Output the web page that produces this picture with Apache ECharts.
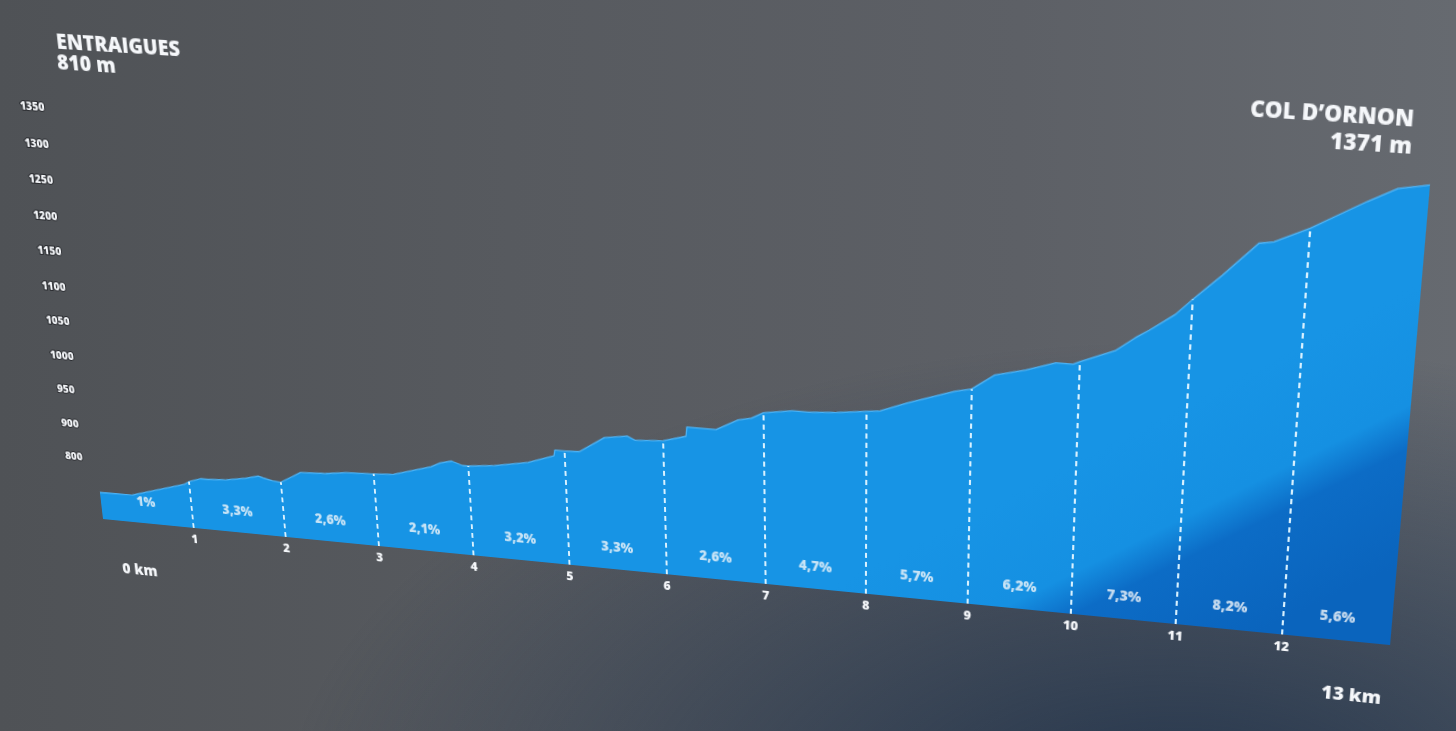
<!DOCTYPE html>
<html>
<head>
<meta charset="utf-8">
<script src="https://cdn.jsdelivr.net/npm/echarts@6/dist/echarts.min.js"></script>
<style>
html,body{margin:0;padding:0;width:1456px;height:731px;overflow:hidden;}
body{
  background:
    radial-gradient(ellipse 900px 480px at 1180px 820px, rgba(32,50,74,0.95), rgba(32,50,74,0) 100%),
    linear-gradient(to right, #4f5256 0%, #575a5f 35%, #5d6066 70%, #666a70 100%);
}
#chart{position:absolute;left:0;top:0;width:1456px;height:731px;transform-origin:0 0;}
</style>
</head>
<body>
<div id="chart"></div>
<script>
// ---- data read from the sign ----
const kmPoints = [0,0.36,0.69,0.94,1,1.13,1.22,1.41,1.62,1.76,1.81,1.91,2,2.13,2.22,2.49,2.71,3,3.21,3.46,3.61,3.71,3.83,3.94,4,4.27,4.62,4.89,4.9,5,5.15,5.41,5.64,5.72,6,6.23,6.24,6.35,6.53,6.75,6.88,7,7.28,7.44,7.71,8,8.13,8.39,8.71,8.84,9,9.05,9.21,9.5,9.78,9.94,10,10.32,10.5,10.62,10.67,10.85,11,11.25,11.56,11.69,12,12.15,12.48,12.73,13];
const elevations = [810,811,824,834,839,845,845,847,852,857,855,852,851,861,868,870,874,876,878,888,894,901,905,900,900,904,913,926,934,934,935,958,963,958,961,970,983,983,983,999,1003,1012,1018,1018,1021,1026,1028,1042,1057,1063,1068,1073,1089,1099,1112,1112,1116,1134,1153,1164,1169,1187,1208,1241,1285,1288,1308,1320,1346,1364,1371];
const kmTicks = [1,2,3,4,5,6,7,8,9,10,11,12];
const slopeLabels = ['1%','3,3%','2,6%','2,1%','3,2%','3,3%','2,6%','4,7%','5,7%','6,2%','7,3%','8,2%','5,6%'];
const elevTickLabels = ['800','900','950','1000','1050','1100','1150','1200','1250','1300','1350'];
const startName = 'ENTRAIGUES', startElev = '810 m';
const endName = 'COL D’ORNON', endElev = '1371 m';
const startKmLabel = '0 km', endKmLabel = '13 km';

// ---- flat layout of the chart (before the photo perspective) ----
const GL = 100, GT = 159, GW = 1300, GH = 441;
const Y_MIN = 770, Y_MAX = 1400, X_MAX = 13;
const sx = k => GL + k * GW / X_MAX;
const sy = e => GT + GH - (e - Y_MIN) * GH / (Y_MAX - Y_MIN);

// ---- perspective of the photographed sign (homography) ----
function solve(A, b) {
  const n = b.length;
  const M = A.map((r, i) => r.concat([b[i]]));
  for (let c = 0; c < n; c++) {
    let p = c;
    for (let r = c + 1; r < n; r++) if (Math.abs(M[r][c]) > Math.abs(M[p][c])) p = r;
    [M[c], M[p]] = [M[p], M[c]];
    for (let r = 0; r < n; r++) {
      if (r === c) continue;
      const f = M[r][c] / M[c][c];
      for (let k = c; k <= n; k++) M[r][k] -= f * M[c][k];
    }
  }
  return M.map((r, i) => r[n] / r[i]);
}
function homography(src, dst) {
  const A = [], B = [];
  for (let i = 0; i < 4; i++) {
    const [x, y] = src[i], [u, v] = dst[i];
    A.push([x, y, 1, 0, 0, 0, -x * u, -y * u]); B.push(u);
    A.push([0, 0, 0, x, y, 1, -x * v, -y * v]); B.push(v);
  }
  const h = solve(A, B);
  return [[h[0], h[1], h[2]], [h[3], h[4], h[5]], [h[6], h[7], 1]];
}
function inv3(m) {
  const [a, b, c] = m[0], [d, e, f] = m[1], [g, h, i] = m[2];
  const A = e * i - f * h, B = -(d * i - f * g), C = d * h - e * g;
  const det = a * A + b * B + c * C;
  return [
    [A / det, -(b * i - c * h) / det, (b * f - c * e) / det],
    [B / det, (a * i - c * g) / det, -(a * f - c * d) / det],
    [C / det, -(a * h - b * g) / det, (a * e - b * d) / det]
  ];
}
const H = homography(
  [[sx(0), sy(Y_MIN)], [sx(13), sy(Y_MIN)], [sx(13), sy(1371)], [sx(0), sy(1371)]],
  [[103, 519], [1390, 645], [1430, 185], [54, 95]]
);
const Hi = inv3(H);
function toSrc(u, v) {
  const x = Hi[0][0] * u + Hi[0][1] * v + Hi[0][2];
  const y = Hi[1][0] * u + Hi[1][1] * v + Hi[1][2];
  const w = Hi[2][0] * u + Hi[2][1] * v + Hi[2][2];
  return [x / w, y / w];
}
const dom = document.getElementById('chart');
dom.style.transform = `matrix3d(${H[0][0]},${H[1][0]},0,${H[2][0]},${H[0][1]},${H[1][1]},0,${H[2][1]},0,0,1,0,${H[0][2]},${H[1][2]},0,1)`;

// ---- chart ----
const FONT = '"Open Sans", "DejaVu Sans", sans-serif';
const WHITE = '#f5f7fa';
const elevAt = k => elevations[kmPoints.indexOf(k)];
const profile = kmPoints.map((k, i) => [k, elevations[i]]);

const lab1350 = toSrc(29, 107), lab800 = toSrc(77, 457);
const tStart = toSrc(55, 31), tStartE = toSrc(56, 52);
const tEnd = toSrc(1415, 108), tEndE = toSrc(1413, 135);
const tKm0 = toSrc(140, 571), tKm13 = toSrc(1351, 696);
const shadeA = toSrc(1187, 402), shadeB = toSrc(1303, 612);

function gText(p, text, size, align, vAlign) {
  return {
    type: 'text', x: p[0], y: p[1], z: 10,
    style: {
      text: text, fill: WHITE, fontSize: size, fontWeight: 800, fontFamily: FONT,
      align: align, textAlign: align, verticalAlign: vAlign, textVerticalAlign: vAlign,
      shadowColor: 'rgba(0,0,0,0.35)', shadowBlur: 2, shadowOffsetY: 1
    }
  };
}

const chart = echarts.init(dom, null, { renderer: 'canvas' });
chart.setOption({
  backgroundColor: 'transparent',
  animation: false,
  grid: [
    { left: GL, top: GT, width: GW, height: GH },
    { left: (lab1350[0] + lab800[0]) / 2, top: lab1350[1], height: lab800[1] - lab1350[1], width: 1 }
  ],
  xAxis: [
    {
      type: 'value', min: 0, max: X_MAX, interval: 1, gridIndex: 0,
      axisLine: { show: false }, axisTick: { show: false }, splitLine: { show: false },
      axisLabel: {
        margin: 6, color: WHITE, fontSize: 12.5, fontWeight: 800, fontFamily: FONT,
        formatter: v => (kmTicks.indexOf(v) >= 0 ? String(v) : '')
      }
    },
    { type: 'value', gridIndex: 1, show: false }
  ],
  yAxis: [
    { type: 'value', min: Y_MIN, max: Y_MAX, gridIndex: 0, show: false },
    {
      type: 'category', gridIndex: 1, data: elevTickLabels, boundaryGap: false,
      axisLine: { show: false }, axisTick: { show: false }, splitLine: { show: false },
      axisLabel: {
        margin: 0, align: 'center', color: WHITE, fontSize: 11, fontWeight: 800, fontFamily: FONT,
        textBorderColor: '#2a2c30', textBorderWidth: 2
      }
    }
  ],
  series: [
    {
      type: 'line', data: profile, showSymbol: false, silent: true, z: 2,
      lineStyle: { color: '#4cb2f4', width: 1.3 },
      areaStyle: {
        origin: 'start', opacity: 1,
        color: {
          type: 'linear', global: true,
          x: shadeA[0], y: shadeA[1], x2: shadeB[0], y2: shadeB[1],
          colorStops: [
            { offset: 0, color: '#1794e5' },
            { offset: 0.42, color: '#1590e2' },
            { offset: 0.58, color: '#0c6cc6' },
            { offset: 1, color: '#0a64bd' }
          ]
        }
      },
      markLine: {
        silent: true, symbol: 'none', animation: false,
        label: { show: false },
        lineStyle: { type: [5, 4], color: '#d8f1ff', width: 2 },
        data: kmTicks.map(k => [{ coord: [k, Y_MIN] }, { coord: [k, elevAt(k)] }])
      }
    },
    {
      type: 'scatter', symbolSize: 0, silent: true, z: 5,
      data: slopeLabels.map((s, i) => [i + 0.5, Y_MIN]),
      label: {
        show: true, position: 'top', distance: 15,
        color: WHITE, fontSize: 13.5, fontWeight: 800, fontFamily: FONT,
        formatter: p => slopeLabels[p.dataIndex]
      }
    }
  ],
  graphic: [
    gText(tStart, startName, 20, 'left', 'top'),
    gText(tStartE, startElev, 20, 'left', 'top'),
    gText(tEnd, endName, 19.5, 'right', 'top'),
    gText(tEndE, endElev, 19.5, 'right', 'top'),
    gText(tKm0, startKmLabel, 15.5, 'center', 'middle'),
    gText(tKm13, endKmLabel, 18, 'center', 'middle')
  ]
});
</script>
</body>
</html>
